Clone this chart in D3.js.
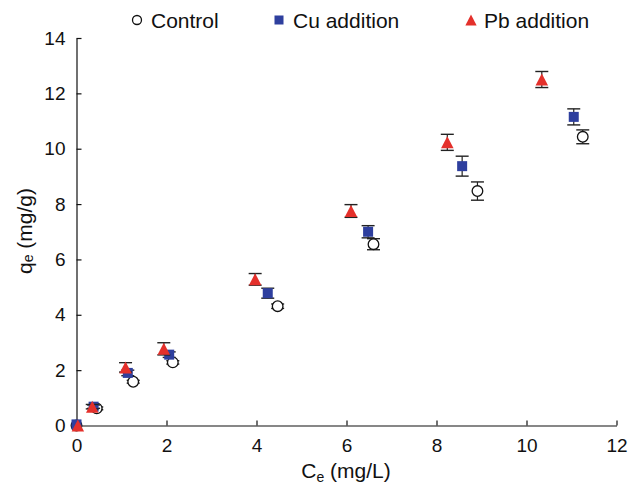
<!DOCTYPE html>
<html>
<head>
<meta charset="utf-8">
<script src="https://cdn.jsdelivr.net/npm/d3@7"></script>
<style>
  body { margin: 0; background: #fff; }
  svg { display: block; font-family: "Liberation Sans", Arial, sans-serif; }
</style>
</head>
<body>
<svg id="chart" width="630" height="490"></svg>
<script>
// values
var ceControl = [0, 0.45, 1.26, 2.14, 4.47, 6.60, 8.91, 11.25],
    qeControl = [0, 0.62, 1.58, 2.28, 4.31, 6.55, 8.47, 10.43],
    errControl = [0, 0.05, 0.05, 0.06, 0.08, 0.20, 0.33, 0.25];

var ceCu = [0, 0.38, 1.14, 2.06, 4.25, 6.48, 8.57, 11.05],
    qeCu = [0.04, 0.68, 1.90, 2.56, 4.78, 7.00, 9.37, 11.15],
    errCu = [0, 0.06, 0.10, 0.10, 0.18, 0.22, 0.36, 0.29];

var cePb = [0.03, 0.35, 1.09, 1.94, 3.97, 6.10, 8.24, 10.34],
    qePb = [0, 0.68, 2.10, 2.77, 5.28, 7.75, 10.23, 12.50],
    errPb = [0, 0.08, 0.17, 0.22, 0.21, 0.23, 0.29, 0.29];

var xTicks = [0, 2, 4, 6, 8, 10, 12],
    yTicks = [0, 2, 4, 6, 8, 10, 12, 14];

var series = [
    { name: "Control", ce: ceControl, qe: qeControl, err: errControl, shape: "circle" },
    { name: "Cu addition", ce: ceCu, qe: qeCu, err: errCu, shape: "square" },
    { name: "Pb addition", ce: cePb, qe: qePb, err: errPb, shape: "triangle" }
];

var svg = d3.select("#chart"),
    margin = { left: 76.5, right: 13.5, top: 38, bottom: 64.5 },
    W = 630, H = 490;

var x = d3.scaleLinear().domain([0, 12]).range([margin.left, W - margin.right]),
    y = d3.scaleLinear().domain([0, 14]).range([H - margin.bottom, margin.top]);

var colors = { circle: "#ffffff", square: "#2e3f9e", triangle: "#e4302b" };

function drawMarker(g, shape, cx, cy, scale) {
    scale = scale || 1;
    if (shape === "circle") {
        g.append("circle")
            .attr("cx", cx).attr("cy", cy).attr("r", 5.3 * scale)
            .attr("fill", "#fff").attr("stroke", "#111").attr("stroke-width", 1.3);
    } else if (shape === "square") {
        var s = 10 * scale;
        g.append("rect")
            .attr("x", cx - s / 2).attr("y", cy - s / 2)
            .attr("width", s).attr("height", s)
            .attr("fill", colors.square);
    } else {
        var w = 12.5 * scale, h = 12 * scale;
        g.append("path")
            .attr("d", "M" + cx + "," + (cy - h / 2) + "L" + (cx + w / 2) + "," + (cy + h / 2) +
                "L" + (cx - w / 2) + "," + (cy + h / 2) + "Z")
            .attr("fill", colors.triangle);
    }
}

// axes
var xAxis = d3.axisBottom(x).tickValues(xTicks).tickSizeInner(-5).tickSizeOuter(0).tickPadding(13),
    yAxis = d3.axisLeft(y).tickValues(yTicks).tickSizeInner(-5).tickSizeOuter(0).tickPadding(11);

var gx = svg.append("g")
    .attr("transform", "translate(0," + y(0) + ")")
    .call(xAxis);
var gy = svg.append("g")
    .attr("transform", "translate(" + x(0) + ",0)")
    .call(yAxis);

[gx, gy].forEach(function (g) {
    g.selectAll("path, line").attr("stroke", "#111").attr("stroke-width", 1.2);
    g.selectAll("text").attr("font-size", 19).attr("fill", "#111")
        .attr("font-family", "'Liberation Sans', Arial, sans-serif");
});
gx.selectAll(".tick").filter(function (d) { return d === 0; }).select("line").remove();
gy.selectAll(".tick").filter(function (d) { return d === 0; }).select("line").remove();

// axis titles
var xt = svg.append("text")
    .attr("x", 346).attr("y", 478)
    .attr("text-anchor", "middle")
    .attr("font-size", 21).attr("fill", "#111");
xt.append("tspan").text("C");
xt.append("tspan").attr("font-size", 14).attr("dy", 4).text("e");
xt.append("tspan").attr("dy", -4).text(" (mg/L)");

var yt = svg.append("text")
    .attr("transform", "translate(32,231) rotate(-90)")
    .attr("text-anchor", "middle")
    .attr("font-size", 21).attr("fill", "#111");
yt.append("tspan").text("q");
yt.append("tspan").attr("font-size", 14).attr("dy", 1).text("e");
yt.append("tspan").attr("dy", -1).text(" (mg/g)");

// points with error bars
series.forEach(function (s) {
    var g = svg.append("g").attr("class", "series");
    s.ce.forEach(function (c, i) {
        var cx = x(c), cy = y(s.qe[i]), e = s.err[i];
        if (e > 0) {
            var y1 = y(s.qe[i] + e), y2 = y(s.qe[i] - e), cap = 6.5;
            g.append("line").attr("x1", cx).attr("x2", cx).attr("y1", y1).attr("y2", y2)
                .attr("stroke", "#222").attr("stroke-width", 1.2);
            [y1, y2].forEach(function (yy) {
                g.append("line").attr("x1", cx - cap).attr("x2", cx + cap)
                    .attr("y1", yy).attr("y2", yy)
                    .attr("stroke", "#222").attr("stroke-width", 1.4);
            });
        }
        drawMarker(g, s.shape, cx, cy);
    });
});

// legend
var legendX = [137, 279, 471],
    legendTextX = [151, 293, 484];
series.forEach(function (s, i) {
    var g = svg.append("g").attr("class", "legend");
    drawMarker(g, s.shape, legendX[i], 20, s.shape === "circle" ? 0.85 : 0.9);
    g.append("text")
        .attr("x", legendTextX[i]).attr("y", 27.5)
        .attr("font-size", 21).attr("fill", "#111")
        .text(s.name);
});
</script>
</body>
</html>
